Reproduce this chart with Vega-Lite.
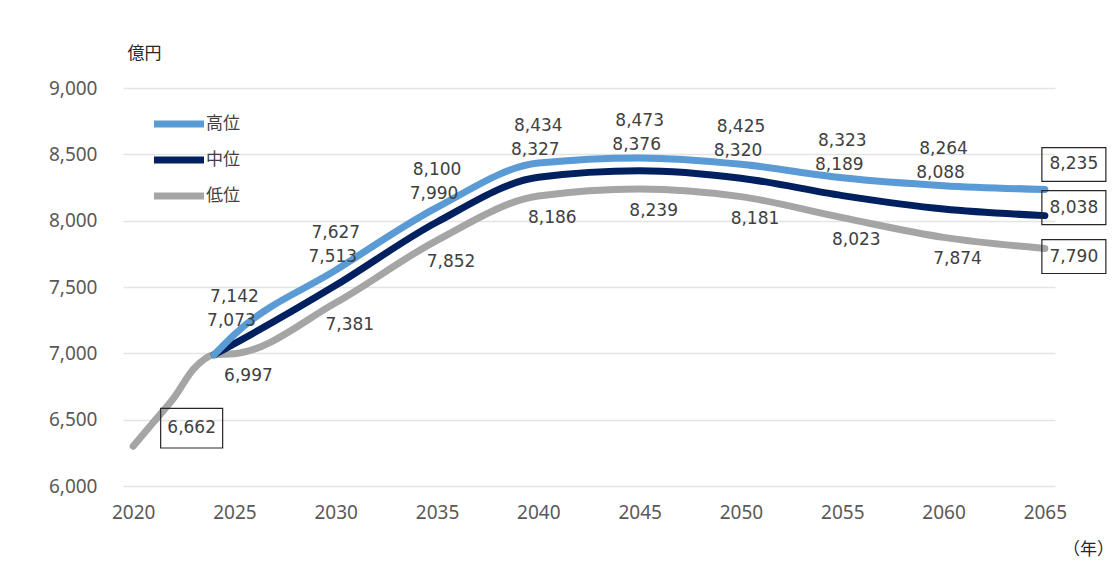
{
  "$schema": "https://vega.github.io/schema/vega-lite/v6.json",
  "autosize": {"type": "none"},
  "padding": {"left": 123, "top": 88, "right": 63, "bottom": 79},
  "width": 932,
  "height": 398,
  "background": "#ffffff",
  "data": {
    "values": [
      {"year": 2020, "series": "低位", "value": 6300},
      {"year": 2021, "series": "低位", "value": 6480},
      {"year": 2022, "series": "低位", "value": 6662},
      {"year": 2023, "series": "低位", "value": 6885},
      {"year": 2024, "series": "低位", "value": 6990},
      {"year": 2025, "series": "低位", "value": 6997},
      {"year": 2030, "series": "低位", "value": 7381},
      {"year": 2035, "series": "低位", "value": 7852},
      {"year": 2040, "series": "低位", "value": 8186},
      {"year": 2045, "series": "低位", "value": 8239},
      {"year": 2050, "series": "低位", "value": 8181},
      {"year": 2055, "series": "低位", "value": 8023},
      {"year": 2060, "series": "低位", "value": 7874},
      {"year": 2065, "series": "低位", "value": 7790},
      {"year": 2024, "series": "中位", "value": 6990},
      {"year": 2025, "series": "中位", "value": 7073},
      {"year": 2030, "series": "中位", "value": 7513},
      {"year": 2035, "series": "中位", "value": 7990},
      {"year": 2040, "series": "中位", "value": 8327},
      {"year": 2045, "series": "中位", "value": 8376},
      {"year": 2050, "series": "中位", "value": 8320},
      {"year": 2055, "series": "中位", "value": 8189},
      {"year": 2060, "series": "中位", "value": 8088},
      {"year": 2065, "series": "中位", "value": 8038},
      {"year": 2024, "series": "高位", "value": 6990},
      {"year": 2025, "series": "高位", "value": 7142},
      {"year": 2030, "series": "高位", "value": 7627},
      {"year": 2035, "series": "高位", "value": 8100},
      {"year": 2040, "series": "高位", "value": 8434},
      {"year": 2045, "series": "高位", "value": 8473},
      {"year": 2050, "series": "高位", "value": 8425},
      {"year": 2055, "series": "高位", "value": 8323},
      {"year": 2060, "series": "高位", "value": 8264},
      {"year": 2065, "series": "高位", "value": 8235}
    ]
  },
  "encoding": {
    "x": {
      "field": "year", "type": "quantitative",
      "scale": {"domain": [2019.5, 2065.5], "nice": false, "zero": false},
      "axis": {
        "values": [2020, 2025, 2030, 2035, 2040, 2045, 2050, 2055, 2060, 2065],
        "format": "d", "grid": false, "ticks": false, "domain": false,
        "labelFont": "Noto Sans", "labelFontSize": 19, "labelColor": "#595959",
        "labelPadding": 17,
        "title": "（年）", "titleFont": "Noto Sans CJK JP", "titleFontSize": 17,
        "titleFontWeight": "normal", "titleColor": "#262626",
        "titleAnchor": null, "titleAlign": "center", "titleBaseline": "middle",
        "titleX": 965, "titleY": 63
      }
    },
    "y": {
      "field": "value", "type": "quantitative",
      "scale": {"domain": [6000, 9000], "nice": false, "zero": false},
      "axis": {
        "values": [6000, 6500, 7000, 7500, 8000, 8500, 9000],
        "format": ",d", "grid": true, "gridColor": "#e4e4e4", "gridWidth": 1.3,
        "ticks": false, "domain": false,
        "labelFont": "Noto Sans", "labelFontSize": 19, "labelColor": "#595959",
        "labelPadding": 26,
        "title": "億円", "titleFont": "Noto Sans CJK JP", "titleFontSize": 17,
        "titleFontWeight": "normal", "titleColor": "#262626",
        "titleAngle": 0, "titleAnchor": null, "titleAlign": "center", "titleBaseline": "middle",
        "titleX": 21, "titleY": -35
      }
    }
  },
  "layer": [
    {
      "mark": {"type": "line", "strokeWidth": 7, "interpolate": "monotone", "strokeCap": "round", "strokeJoin": "round"},
      "encoding": {
        "color": {
          "field": "series", "type": "nominal",
          "scale": {"domain": ["高位", "中位", "低位"], "range": ["#5b9bd5", "#002060", "#a5a5a5"]},
          "legend": {
            "orient": "none", "legendX": 40, "legendY": 20, "title": null,
            "symbolType": "M-2,0H2", "symbolSize": 625, "symbolStrokeWidth": 7,
            "labelOffset": 11, "rowPadding": 6,
            "labelFont": "Noto Sans CJK JP", "labelFontSize": 17, "labelColor": "#404040"
          }
        },
        "order": {"field": "year", "type": "quantitative"}
      }
    },
    {
      "transform": [{"filter": "datum.series == '高位' && datum.year >= 2025 && datum.year <= 2060"}],
      "mark": {"type": "text", "font": "DejaVu Sans", "fontSize": 17, "color": "#404040", "dy": -37, "align": "center", "baseline": "middle"},
      "encoding": {"text": {"field": "value", "type": "quantitative", "format": ","}}
    },
    {
      "transform": [
        {"pivot": "series", "value": "value", "groupby": ["year"]},
        {"filter": "datum.year >= 2025 && datum.year <= 2060"}
      ],
      "mark": {"type": "text", "font": "DejaVu Sans", "fontSize": 17, "color": "#404040", "dy": -13, "dx": -3, "align": "center", "baseline": "middle"},
      "encoding": {
        "y": {
          "field": "高位", "type": "quantitative",
          "scale": {"domain": [6000, 9000], "nice": false, "zero": false},
          "axis": {
            "values": [6000, 6500, 7000, 7500, 8000, 8500, 9000],
            "format": ",d", "grid": true, "gridColor": "#e4e4e4", "gridWidth": 1.3,
            "ticks": false, "domain": false,
            "labelFont": "Noto Sans", "labelFontSize": 19, "labelColor": "#595959",
            "labelPadding": 26,
            "title": "億円", "titleFont": "Noto Sans CJK JP", "titleFontSize": 17,
            "titleFontWeight": "normal", "titleColor": "#262626",
            "titleAngle": 0, "titleAnchor": null, "titleAlign": "center", "titleBaseline": "middle",
            "titleX": 21, "titleY": -35
          }
        },
        "text": {"field": "中位", "type": "quantitative", "format": ","}
      }
    },
    {
      "transform": [{"filter": "datum.series == '低位' && datum.year >= 2025 && datum.year <= 2060"}],
      "mark": {"type": "text", "font": "DejaVu Sans", "fontSize": 17, "color": "#404040", "dy": 22, "dx": 14, "align": "center", "baseline": "middle"},
      "encoding": {"text": {"field": "value", "type": "quantitative", "format": ","}}
    },
    {
      "transform": [{"filter": "datum.series == '低位' && datum.year == 2022"}],
      "mark": {"type": "point", "shape": "M-1,-0.64H1V0.64H-1Z", "size": 3844, "filled": false, "stroke": "#262626", "strokeWidth": 1.2, "opacity": 1, "xOffset": 18, "yOffset": 30}
    },
    {
      "transform": [{"filter": "datum.series == '低位' && datum.year == 2022"}],
      "mark": {"type": "text", "font": "DejaVu Sans", "fontSize": 17, "color": "#404040", "dx": 18, "dy": 30, "align": "center", "baseline": "middle"},
      "encoding": {"text": {"field": "value", "type": "quantitative", "format": ","}}
    },
    {
      "transform": [{"filter": "datum.series == '高位' && datum.year == 2065"}],
      "mark": {"type": "point", "shape": "M-1,-0.53H1V0.53H-1Z", "size": 4096, "filled": false, "stroke": "#262626", "strokeWidth": 1.2, "opacity": 1, "xOffset": 29, "yOffset": -25}
    },
    {
      "transform": [{"filter": "datum.series == '高位' && datum.year == 2065"}],
      "mark": {"type": "text", "font": "DejaVu Sans", "fontSize": 17, "color": "#404040", "dx": 29, "dy": -25, "align": "center", "baseline": "middle"},
      "encoding": {"text": {"field": "value", "type": "quantitative", "format": ","}}
    },
    {
      "transform": [{"filter": "datum.series == '中位' && datum.year == 2065"}],
      "mark": {"type": "point", "shape": "M-1,-0.53H1V0.53H-1Z", "size": 4096, "filled": false, "stroke": "#262626", "strokeWidth": 1.2, "opacity": 1, "xOffset": 29, "yOffset": -8}
    },
    {
      "transform": [{"filter": "datum.series == '中位' && datum.year == 2065"}],
      "mark": {"type": "text", "font": "DejaVu Sans", "fontSize": 17, "color": "#404040", "dx": 29, "dy": -8, "align": "center", "baseline": "middle"},
      "encoding": {"text": {"field": "value", "type": "quantitative", "format": ","}}
    },
    {
      "transform": [{"filter": "datum.series == '低位' && datum.year == 2065"}],
      "mark": {"type": "point", "shape": "M-1,-0.53H1V0.53H-1Z", "size": 4096, "filled": false, "stroke": "#262626", "strokeWidth": 1.2, "opacity": 1, "xOffset": 29, "yOffset": 8}
    },
    {
      "transform": [{"filter": "datum.series == '低位' && datum.year == 2065"}],
      "mark": {"type": "text", "font": "DejaVu Sans", "fontSize": 17, "color": "#404040", "dx": 29, "dy": 8, "align": "center", "baseline": "middle"},
      "encoding": {"text": {"field": "value", "type": "quantitative", "format": ","}}
    }
  ],
  "config": {
    "view": {"stroke": null},
    "legend": {"padding": 0}
  }
}
